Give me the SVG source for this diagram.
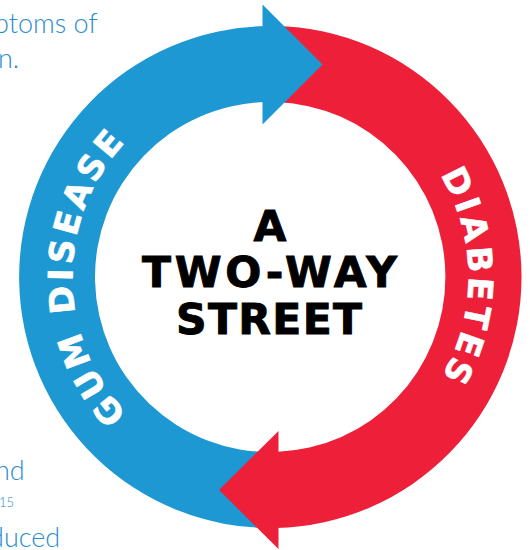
<svg xmlns="http://www.w3.org/2000/svg" width="530" height="550" viewBox="0 0 530 550">
  <style>
    .blue { fill: #1E98D3; }
    .red { fill: #ED1F39; }
    .band-label { fill: #FFFFFF; stroke: #FFFFFF; stroke-width: 0.6px; font-family: "DejaVu Sans", "Liberation Sans", sans-serif; font-weight: bold; font-size: 34px; letter-spacing: 3.5px; }
    .title { fill: #000000; stroke: #000000; stroke-width: 0.9px; font-family: "DejaVu Sans", "Liberation Sans", sans-serif; font-weight: bold; font-size: 42.5px; text-anchor: middle; }
    .body { fill: #2A8DD0; font-family: Lato, "Open Sans", sans-serif; font-weight: 300; font-size: 27px; }
    .note { fill: #2A8DD0; font-family: Lato, "Open Sans", sans-serif; font-weight: 300; font-size: 13px; }
  </style>
  <defs>
    <!-- clockwise baseline arcs, radius 198 around (270.5, 277) -->
    <path id="arc-left" d="M270.5,475 A198,198 0 0,1 270.5,79"/>
    <path id="arc-right" d="M270.5,79 A198,198 0 0,1 270.5,475"/>
  </defs>

  <rect width="530" height="550" fill="#FFFFFF"/>

  <!-- surrounding body copy, cropped at the page edge -->
  <g id="page-text">
    <text class="body" x="-6" y="33">ptoms of</text>
    <text class="body" x="-2" y="68">n.</text>
    <text class="body" x="-5" y="480">nd</text>
    <text class="note" x="-1" y="507">15</text>
    <text class="body" x="-11" y="547">duced</text>
  </g>

  <!-- ring bands (connectors) -->
  <g id="connectors">
    <path id="band-diabetes" class="red" d="M275,26.04 A251,251 0 0,1 276,527.94 L276,451.91 A175,175 0 0,0 275,102.06 Z"/>
    <path id="band-gum" class="blue" d="M274,527.98 A251,251 0 0,1 266,26.04 L266,102.06 A175,175 0 0,0 274,451.97 Z"/>
    <polygon id="head-gum" class="blue" points="262.5,4.5 322.5,64.5 262.5,124.5"/>
    <polygon id="head-diabetes" class="red" points="278.5,431 219,490 278.5,549"/>
  </g>

  <g id="node-gum-disease">
    <text class="band-label"><textPath href="#arc-left" startOffset="50%" text-anchor="middle">GUM DISEASE</textPath></text>
  </g>

  <g id="node-diabetes">
    <text class="band-label"><textPath href="#arc-right" startOffset="50%" text-anchor="middle">DIABETES</textPath></text>
  </g>

  <g id="node-title">
    <text class="title" x="270" y="240.5">A</text>
    <text class="title" x="269.5" y="286.5" textLength="255" lengthAdjust="spacing">TWO-WAY</text>
    <text class="title" x="269" y="334" textLength="186" lengthAdjust="spacing">STREET</text>
  </g>
</svg>
